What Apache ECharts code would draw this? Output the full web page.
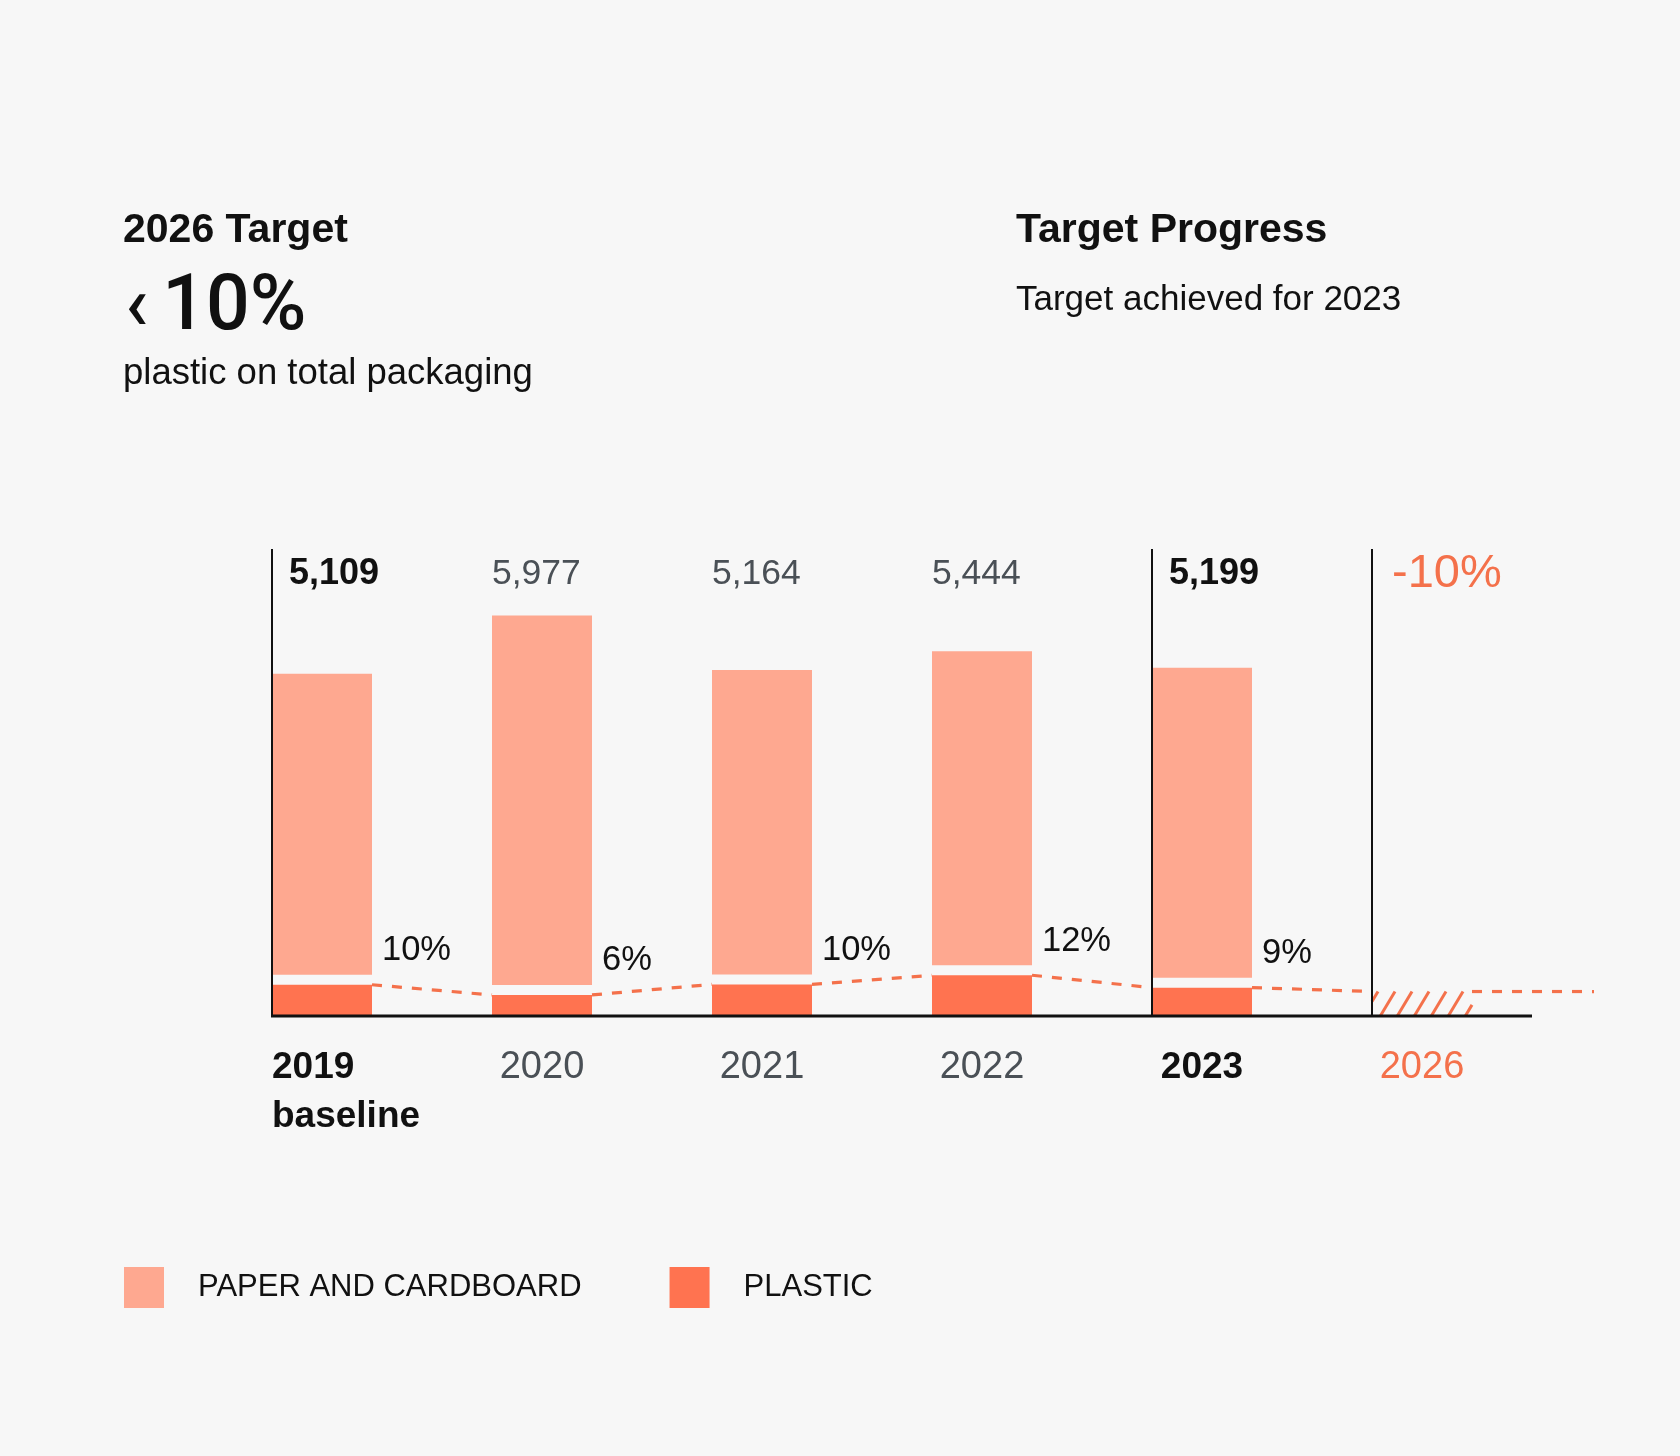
<!DOCTYPE html>
<html><head><meta charset="utf-8">
<script src="https://cdn.jsdelivr.net/npm/echarts@6/dist/echarts.min.js"></script>
<style>html,body{margin:0;padding:0;background:#f7f7f7}#c{width:1680px;height:1456px}</style>
</head><body><div id="c"></div>
<script>
// ---- data ----
const years = ['2019', '2020', '2021', '2022', '2023', '2026'];
const yearKind = ['baseline', 'past', 'past', 'past', 'current', 'target'];
const paper = [4598, 5618, 4648, 4791, 4731, null];
const plastic = [511, 359, 516, 653, 468, null];
const totalLabels = ['5,109', '5,977', '5,164', '5,444', '5,199', '-10%'];
const shareLabels = ['10%', '6%', '10%', '12%', '9%', null];
const plasticTarget2026 = 410;
const baselineNote = 'baseline';
const seriesNames = ['PAPER AND CARDBOARD', 'PLASTIC'];
const headLeft = ['2026 Target', '10%', 'plastic on total packaging'];
const headRight = ['Target Progress', 'Target achieved for 2023'];

// ---- style ----
const FONT = 'Liberation Sans, Arial, sans-serif';
const BIG_FONT = 'Roboto, Liberation Sans, sans-serif';
const PAPER = '#fea890';
const PLASTIC = '#ff7350';
const ORANGE = '#f4714b';
const INK = '#111111';
const GREY = '#4a5056';
const BAR_W = 100;
const Y_MAX = 7000;

const trend = plastic.map(v => v == null ? plasticTarget2026 : v);

const chart = echarts.init(document.getElementById('c'), null, {renderer: 'canvas'});

function textEl(text, x, y, size, color, weight, align) {
  return {type: 'text', silent: true, style: {text, x, y, fill: color, fontSize: size, fontFamily: FONT,
    fontWeight: weight || 'normal', align: align || 'left', verticalAlign: 'middle'}};
}

const option = {
  backgroundColor: '#f7f7f7',
  animation: false,
  title: [
    {text: headLeft[0], left: 123, top: 207, padding: 0,
      textStyle: {fontFamily: FONT, fontSize: 41, fontWeight: 'bold', color: INK, lineHeight: 48}},
    {text: '{a|‹}{b|' + headLeft[1] + '}', left: 125, top: 270, padding: 0,
      textStyle: {fontWeight: 'normal', rich: {
        a: {fontFamily: BIG_FONT, fontSize: 76, fontWeight: 500, color: INK, lineHeight: 80, padding: [0, 14, 0, 0]},
        b: {fontFamily: BIG_FONT, fontSize: 77, fontWeight: 500, color: INK, lineHeight: 80}
      }}},
    {text: headLeft[2], left: 123, top: 354, padding: 0,
      textStyle: {fontFamily: FONT, fontSize: 36.5, fontWeight: 'normal', color: INK, lineHeight: 40}},
    {text: headRight[0], left: 1016, top: 207, padding: 0,
      textStyle: {fontFamily: FONT, fontSize: 41, fontWeight: 'bold', color: INK, lineHeight: 48}},
    {text: headRight[1], left: 1016, top: 280, padding: 0,
      textStyle: {fontFamily: FONT, fontSize: 35, fontWeight: 'normal', color: INK, lineHeight: 40}}
  ],
  legend: {
    data: seriesNames, left: 119, top: 1262, icon: 'rect', itemWidth: 40, itemHeight: 41, itemGap: 88,
    selectedMode: false,
    textStyle: {fontFamily: FONT, fontSize: 31, color: INK, padding: [0, 0, 0, 29]}
  },
  grid: {left: 212, right: 148, top: 547, bottom: 440},
  xAxis: {
    type: 'category', data: years, boundaryGap: true,
    axisLine: {show: false}, axisTick: {show: false}, splitLine: {show: false},
    axisLabel: {
      interval: 0, margin: 27,
      formatter: (v, i) => {
        const k = yearKind[i];
        if (k === 'baseline') return '{base|' + v + '}\n{base|' + baselineNote + '}';
        if (k === 'current') return '{cur|' + v + '}';
        if (k === 'target') return '{tgt|' + v + '}';
        return '{past|' + v + '}';
      },
      rich: {
        base: {fontFamily: FONT, fontSize: 37, fontWeight: 'bold', color: INK, width: BAR_W, align: 'left', lineHeight: 49},
        cur: {fontFamily: FONT, fontSize: 37, fontWeight: 'bold', color: INK, lineHeight: 49},
        past: {fontFamily: FONT, fontSize: 38, color: GREY, lineHeight: 49},
        tgt: {fontFamily: FONT, fontSize: 38, color: ORANGE, lineHeight: 49}
      }
    }
  },
  yAxis: {type: 'value', min: 0, max: Y_MAX, show: false},
  series: [
    {
      name: seriesNames[0], type: 'custom', clip: false, silent: true,
      itemStyle: {color: PAPER},
      data: paper.map((v, i) => v == null ? null : [i, plastic[i], v]).filter(d => d),
      renderItem: (params, api) => {
        const i = api.value(0), p = api.value(1), q = api.value(2);
        const base = api.coord([i, p]);
        const top = api.coord([i, p + q]);
        const yb = base[1] - 7;
        return {type: 'rect', shape: {x: base[0] - BAR_W / 2, y: top[1], width: BAR_W, height: yb - top[1]},
          style: {fill: PAPER}};
      }
    },
    {
      name: seriesNames[1], type: 'custom', clip: false, silent: true,
      itemStyle: {color: PLASTIC},
      data: plastic.map((v, i) => v == null ? null : [i, v]).filter(d => d),
      renderItem: (params, api) => {
        const i = api.value(0), v = api.value(1);
        const zero = api.coord([i, 0]);
        const top = api.coord([i, v]);
        const yt = top[1] + 3;
        return {type: 'group', children: [
          {type: 'rect', shape: {x: zero[0] - BAR_W / 2, y: yt, width: BAR_W, height: zero[1] - yt}, style: {fill: PLASTIC}},
          textEl(shareLabels[i], zero[0] + BAR_W / 2 + 10, yt - 34, 34.5, INK)
        ]};
      }
    },
    {
      name: 'trend', type: 'custom', clip: false, silent: true, z: 3,
      data: trend.map((v, i) => [i, v]),
      renderItem: (params, api) => {
        const i = api.value(0), v = api.value(1);
        const p = api.coord([i, v]);
        const y = p[1] + 3, xr = p[0] + BAR_W / 2;
        let x2, y2;
        if (i < trend.length - 1) {
          const q = api.coord([i + 1, trend[i + 1]]);
          x2 = q[0] - BAR_W / 2; y2 = q[1] + 3;
        } else {
          x2 = xr + 122; y2 = y;
        }
        return {type: 'line', shape: {x1: xr, y1: y, x2, y2},
          style: {stroke: ORANGE, lineWidth: 3.2, lineDash: [10, 10]}};
      }
    },
    {
      name: 'target', type: 'custom', clip: false, silent: true, z: 3,
      data: [[years.length - 1, plasticTarget2026]],
      renderItem: (params, api) => {
        const i = api.value(0), v = api.value(1);
        const zero = api.coord([i, 0]);
        const top = api.coord([i, v]);
        const left = zero[0] - BAR_W / 2, right = zero[0] + BAR_W / 2;
        const yb = zero[1], yt = top[1] + 3, h = yb - yt;
        const run = h * 0.6, step = 17;
        const kids = [];
        for (let x = left - run + 6; x < right; x += step) {
          const t0 = Math.max(0, (left - x) / run), t1 = Math.min(1, (right - x) / run);
          if (t0 >= t1) continue;
          kids.push({type: 'line', shape: {x1: x + run * t0, y1: yb - h * t0, x2: x + run * t1, y2: yb - h * t1},
            style: {stroke: ORANGE, lineWidth: 3}});
        }
        return {type: 'group', children: kids};
      }
    },
    {
      name: 'frame', type: 'custom', clip: false, silent: true, z: 4,
      data: years.map((y, i) => [i]),
      renderItem: (params, api) => {
        const i = api.value(0);
        const kind = yearKind[i];
        const zero = api.coord([i, 0]);
        const topP = api.coord([i, Y_MAX]);
        const left = zero[0] - BAR_W / 2;
        const kids = [];
        const marked = kind !== 'past';
        if (marked) {
          kids.push({type: 'line', shape: {x1: left, y1: topP[1] + 2, x2: left, y2: zero[1]},
            style: {stroke: INK, lineWidth: 2}});
        }
        if (i === 0) {
          const band = api.size([1, 0])[0];
          const last = api.coord([years.length - 1, 0]);
          kids.push({type: 'line', shape: {x1: left - 1, y1: zero[1], x2: last[0] + band / 2, y2: zero[1]},
            style: {stroke: INK, lineWidth: 3}});
        }
        const lx = left + (marked ? 17 : 0);
        const ly = topP[1] + 27;
        if (kind === 'target') kids.push(textEl(totalLabels[i], lx + 3, ly, 47, ORANGE, 'normal'));
        else if (kind === 'past') kids.push(textEl(totalLabels[i], lx, ly, 35.5, GREY, 'normal'));
        else kids.push(textEl(totalLabels[i], lx, ly, 36, INK, 'bold'));
        return {type: 'group', children: kids};
      }
    }
  ]
};
chart.setOption(option);
</script>
</body></html>
